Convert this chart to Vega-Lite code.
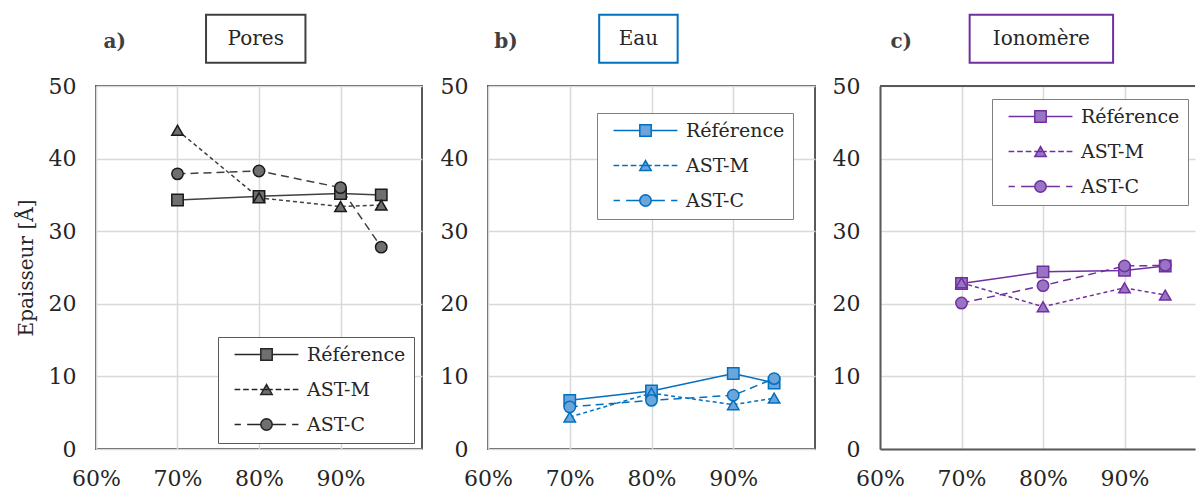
{
  "$schema": "https://vega.github.io/schema/vega-lite/v6.json",
  "padding": {"left": 15, "top": 12, "right": 0, "bottom": 0},
  "background": "white",
  "spacing": 16,
  "resolve": {"scale": {"shape": "independent"}, "legend": {"shape": "independent"}},
  "config": {
    "font": "DejaVu Serif",
    "view": {"stroke": "#595959", "strokeWidth": 2},
    "axis": {
      "labelFont": "DejaVu Serif", "labelFontSize": 22, "labelColor": "#262626",
      "ticks": false, "domain": false, "gridColor": "#d9d9d9", "gridWidth": 1.5,
      "labelFlush": false, "labelOverlap": false, "labelBound": false,
      "titleFont": "DejaVu Serif", "titleFontSize": 20, "titleFontWeight": "normal", "titleColor": "#262626"
    },
    "legend": {
      "orient": "none", "title": null, "labelFont": "DejaVu Serif", "labelFontSize": 19, "labelColor": "#262626",
      "fillColor": "white", "strokeColor": "#7f7f7f", "padding": 8, "rowPadding": 15,
      "symbolSize": 130, "symbolOffset": 31, "labelOffset": 31, "symbolStrokeWidth": 1.5, "symbolOpacity": 1
    }
  },
  "datasets": {
    "pores": [
      {"x": 0.70, "y": 34.3, "serie": "Référence"}, {"x": 0.80, "y": 34.8, "serie": "Référence"}, {"x": 0.90, "y": 35.2, "serie": "Référence"}, {"x": 0.95, "y": 35.0, "serie": "Référence"},
      {"x": 0.70, "y": 43.9, "serie": "AST-M"}, {"x": 0.80, "y": 34.6, "serie": "AST-M"}, {"x": 0.90, "y": 33.4, "serie": "AST-M"}, {"x": 0.95, "y": 33.6, "serie": "AST-M"},
      {"x": 0.70, "y": 37.9, "serie": "AST-C"}, {"x": 0.80, "y": 38.3, "serie": "AST-C"}, {"x": 0.90, "y": 36.0, "serie": "AST-C"}, {"x": 0.95, "y": 27.8, "serie": "AST-C"}
    ],
    "eau": [
      {"x": 0.70, "y": 6.7, "serie": "Référence"}, {"x": 0.80, "y": 8.0, "serie": "Référence"}, {"x": 0.90, "y": 10.4, "serie": "Référence"}, {"x": 0.95, "y": 9.1, "serie": "Référence"},
      {"x": 0.70, "y": 4.4, "serie": "AST-M"}, {"x": 0.80, "y": 7.7, "serie": "AST-M"}, {"x": 0.90, "y": 6.1, "serie": "AST-M"}, {"x": 0.95, "y": 7.0, "serie": "AST-M"},
      {"x": 0.70, "y": 5.8, "serie": "AST-C"}, {"x": 0.80, "y": 6.7, "serie": "AST-C"}, {"x": 0.90, "y": 7.4, "serie": "AST-C"}, {"x": 0.95, "y": 9.7, "serie": "AST-C"}
    ],
    "iono": [
      {"x": 0.70, "y": 22.8, "serie": "Référence"}, {"x": 0.80, "y": 24.4, "serie": "Référence"}, {"x": 0.90, "y": 24.6, "serie": "Référence"}, {"x": 0.95, "y": 25.2, "serie": "Référence"},
      {"x": 0.70, "y": 22.9, "serie": "AST-M"}, {"x": 0.80, "y": 19.6, "serie": "AST-M"}, {"x": 0.90, "y": 22.2, "serie": "AST-M"}, {"x": 0.95, "y": 21.2, "serie": "AST-M"},
      {"x": 0.70, "y": 20.1, "serie": "AST-C"}, {"x": 0.80, "y": 22.5, "serie": "AST-C"}, {"x": 0.90, "y": 25.2, "serie": "AST-C"}, {"x": 0.95, "y": 25.3, "serie": "AST-C"}
    ]
  },
  "hconcat": [
    {
      "width": 326, "height": 363,
      "data": {"name": "pores"},
      "layer": [
        {"transform": [{"filter": "datum.serie === 'Référence'"}], "mark": {"type": "line", "color": "#404040", "strokeWidth": 1.5},
          "encoding": {
            "x": {"field": "x", "type": "quantitative", "scale": {"domain": [0.6, 1.0], "nice": false, "zero": false}, "axis": {"values": [0.6, 0.7, 0.8, 0.9], "format": ".0%", "title": null, "labelPadding": 19}},
            "y": {"field": "y", "type": "quantitative", "scale": {"domain": [0, 50], "nice": false}, "axis": {"values": [0, 10, 20, 30, 40, 50], "title": "Epaisseur [Å]", "labelPadding": 20, "titlePadding": 12}}
          }},
        {"transform": [{"filter": "datum.serie === 'AST-M'"}], "mark": {"type": "line", "color": "#404040", "strokeWidth": 1.5, "strokeDash": [4, 3]},
          "encoding": {"x": {"field": "x", "type": "quantitative"}, "y": {"field": "y", "type": "quantitative"}}},
        {"transform": [{"filter": "datum.serie === 'AST-C'"}], "mark": {"type": "line", "color": "#404040", "strokeWidth": 1.5, "strokeDash": [8, 5]},
          "encoding": {"x": {"field": "x", "type": "quantitative"}, "y": {"field": "y", "type": "quantitative"}}},
        {"transform": [{"filter": "datum.serie === 'Référence'"}], "mark": {"type": "point", "shape": "square", "filled": true, "fill": "#6f6f6f", "stroke": "#1a1a1a", "strokeWidth": 1.5, "size": 130, "opacity": 1},
          "encoding": {"x": {"field": "x", "type": "quantitative"}, "y": {"field": "y", "type": "quantitative"}}},
        {"transform": [{"filter": "datum.serie === 'AST-M'"}], "mark": {"type": "point", "shape": "triangle-up", "filled": true, "fill": "#6f6f6f", "stroke": "#1a1a1a", "strokeWidth": 1.5, "size": 130, "opacity": 1},
          "encoding": {"x": {"field": "x", "type": "quantitative"}, "y": {"field": "y", "type": "quantitative"}}},
        {"transform": [{"filter": "datum.serie === 'AST-C'"}], "mark": {"type": "point", "shape": "circle", "filled": true, "fill": "#6f6f6f", "stroke": "#1a1a1a", "strokeWidth": 1.5, "size": 130, "opacity": 1},
          "encoding": {"x": {"field": "x", "type": "quantitative"}, "y": {"field": "y", "type": "quantitative"}}},
        {
          "transform": [{"filter": "false"}],
          "mark": {"type": "point", "filled": true, "fill": "#6f6f6f", "stroke": "#262626", "strokeWidth": 1.5, "size": 130, "opacity": 1},
          "encoding": {
            "x": {"field": "x", "type": "quantitative"},
            "y": {"field": "y", "type": "quantitative"},
            "shape": {"field": "serie", "type": "nominal",
              "scale": {"domain": ["Référence", "AST-M", "AST-C"], "range": [
                "M-5.6,0H-1M1,0H5.6M-1,-1H1V1H-1Z",
                "M-5.6,0H-4.6M-4.1,0H-3.1M-2.6,0H-1.6M-1.1,0H1.1M1.6,0H2.6M3.1,0H4.1M4.6,0H5.6M0,-0.87L-1,0.87L1,0.87Z",
                "M-5.6,0H-4.5M-3.4,0H-1M1,0H3.4M4.5,0H5.6M1,0L0.924,0.383L0.707,0.707L0.383,0.924L0,1L-0.383,0.924L-0.707,0.707L-0.924,0.383L-1,0L-0.924,-0.383L-0.707,-0.707L-0.383,-0.924L0,-1L0.383,-0.924L0.707,-0.707L0.924,-0.383Z"
              ]},
              "legend": {"legendX": 122, "legendY": 251, "strokeColor": "#595959",
                "encode": {"symbols": {"update": {"opacity": {"value": 1}, "fill": {"value": "#6f6f6f"}, "stroke": {"value": "#262626"}, "strokeWidth": {"value": 1.5}}}}}
            }
          }
        },
        {
          "data": {"values": [{}]},
          "mark": {"type": "text", "text": "a)", "fontWeight": "bold", "fontSize": 20, "color": "#404040"},
          "encoding": {"x": {"datum": 0.623, "type": "quantitative"}, "y": {"datum": 56.1, "type": "quantitative"}}
        },
        {
          "data": {"values": [{}]},
          "mark": {"type": "rect", "filled": false, "stroke": "#404040", "strokeWidth": 2},
          "encoding": {"x": {"datum": 0.735, "type": "quantitative"}, "x2": {"datum": 0.857}, "y": {"datum": 59.8, "type": "quantitative"}, "y2": {"datum": 53.2}}
        },
        {
          "data": {"values": [{}]},
          "mark": {"type": "text", "text": "Pores", "fontSize": 20, "color": "#262626"},
          "encoding": {"x": {"datum": 0.796, "type": "quantitative"}, "y": {"datum": 56.5, "type": "quantitative"}}
        }
      ]
    },
    {
      "width": 327, "height": 363,
      "data": {"name": "eau"},
      "layer": [
        {"transform": [{"filter": "datum.serie === 'Référence'"}], "mark": {"type": "line", "color": "#0070c0", "strokeWidth": 1.5},
          "encoding": {
            "x": {"field": "x", "type": "quantitative", "scale": {"domain": [0.6, 1.0], "nice": false, "zero": false}, "axis": {"values": [0.6, 0.7, 0.8, 0.9], "format": ".0%", "title": null, "labelPadding": 19}},
            "y": {"field": "y", "type": "quantitative", "scale": {"domain": [0, 50], "nice": false}, "axis": {"values": [0, 10, 20, 30, 40, 50], "title": null, "labelPadding": 20}}
          }},
        {"transform": [{"filter": "datum.serie === 'AST-M'"}], "mark": {"type": "line", "color": "#0070c0", "strokeWidth": 1.5, "strokeDash": [4, 3]},
          "encoding": {"x": {"field": "x", "type": "quantitative"}, "y": {"field": "y", "type": "quantitative"}}},
        {"transform": [{"filter": "datum.serie === 'AST-C'"}], "mark": {"type": "line", "color": "#0070c0", "strokeWidth": 1.5, "strokeDash": [8, 5]},
          "encoding": {"x": {"field": "x", "type": "quantitative"}, "y": {"field": "y", "type": "quantitative"}}},
        {"transform": [{"filter": "datum.serie === 'Référence'"}], "mark": {"type": "point", "shape": "square", "filled": true, "fill": "#6aa6dc", "stroke": "#0070c0", "strokeWidth": 1.5, "size": 130, "opacity": 1},
          "encoding": {"x": {"field": "x", "type": "quantitative"}, "y": {"field": "y", "type": "quantitative"}}},
        {"transform": [{"filter": "datum.serie === 'AST-M'"}], "mark": {"type": "point", "shape": "triangle-up", "filled": true, "fill": "#6aa6dc", "stroke": "#0070c0", "strokeWidth": 1.5, "size": 130, "opacity": 1},
          "encoding": {"x": {"field": "x", "type": "quantitative"}, "y": {"field": "y", "type": "quantitative"}}},
        {"transform": [{"filter": "datum.serie === 'AST-C'"}], "mark": {"type": "point", "shape": "circle", "filled": true, "fill": "#6aa6dc", "stroke": "#0070c0", "strokeWidth": 1.5, "size": 130, "opacity": 1},
          "encoding": {"x": {"field": "x", "type": "quantitative"}, "y": {"field": "y", "type": "quantitative"}}},
        {
          "transform": [{"filter": "false"}],
          "mark": {"type": "point", "filled": true, "fill": "#6aa6dc", "stroke": "#0070c0", "strokeWidth": 1.5, "size": 130, "opacity": 1},
          "encoding": {
            "x": {"field": "x", "type": "quantitative"},
            "y": {"field": "y", "type": "quantitative"},
            "shape": {"field": "serie", "type": "nominal",
              "scale": {"domain": ["Référence", "AST-M", "AST-C"], "range": [
                "M-5.6,0H-1M1,0H5.6M-1,-1H1V1H-1Z",
                "M-5.6,0H-4.6M-4.1,0H-3.1M-2.6,0H-1.6M-1.1,0H1.1M1.6,0H2.6M3.1,0H4.1M4.6,0H5.6M0,-0.87L-1,0.87L1,0.87Z",
                "M-5.6,0H-4.5M-3.4,0H-1M1,0H3.4M4.5,0H5.6M1,0L0.924,0.383L0.707,0.707L0.383,0.924L0,1L-0.383,0.924L-0.707,0.707L-0.924,0.383L-1,0L-0.924,-0.383L-0.707,-0.707L-0.383,-0.924L0,-1L0.383,-0.924L0.707,-0.707L0.924,-0.383Z"
              ]},
              "legend": {"legendX": 109, "legendY": 27, "strokeColor": "#7f7f7f",
                "encode": {"symbols": {"update": {"opacity": {"value": 1}, "fill": {"value": "#6aa6dc"}, "stroke": {"value": "#0070c0"}, "strokeWidth": {"value": 1.5}}}}}
            }
          }
        },
        {
          "data": {"values": [{}]},
          "mark": {"type": "text", "text": "b)", "fontWeight": "bold", "fontSize": 20, "color": "#404040"},
          "encoding": {"x": {"datum": 0.622, "type": "quantitative"}, "y": {"datum": 56.1, "type": "quantitative"}}
        },
        {
          "data": {"values": [{}]},
          "mark": {"type": "rect", "filled": false, "stroke": "#0070c0", "strokeWidth": 2},
          "encoding": {"x": {"datum": 0.736, "type": "quantitative"}, "x2": {"datum": 0.832}, "y": {"datum": 59.8, "type": "quantitative"}, "y2": {"datum": 53.2}}
        },
        {
          "data": {"values": [{}]},
          "mark": {"type": "text", "text": "Eau", "fontSize": 20, "color": "#262626"},
          "encoding": {"x": {"datum": 0.784, "type": "quantitative"}, "y": {"datum": 56.5, "type": "quantitative"}}
        }
      ]
    },
    {
      "width": 315, "height": 363,
      "data": {"name": "iono"},
      "view": {"stroke": null},
      "layer": [
        {"transform": [{"filter": "datum.serie === 'Référence'"}], "mark": {"type": "line", "color": "#7030a0", "strokeWidth": 1.5},
          "encoding": {
            "x": {"field": "x", "type": "quantitative", "scale": {"domain": [0.6, 0.9865], "nice": false, "zero": false}, "axis": {"values": [0.6, 0.7, 0.8, 0.9], "format": ".0%", "title": null, "labelPadding": 19, "domain": true, "domainColor": "#595959", "domainWidth": 2}},
            "y": {"field": "y", "type": "quantitative", "scale": {"domain": [0, 50], "nice": false}, "axis": {"values": [0, 10, 20, 30, 40, 50], "title": null, "labelPadding": 20, "domain": true, "domainColor": "#595959", "domainWidth": 2}}
          }},
        {"transform": [{"filter": "datum.serie === 'AST-M'"}], "mark": {"type": "line", "color": "#7030a0", "strokeWidth": 1.5, "strokeDash": [4, 3]},
          "encoding": {"x": {"field": "x", "type": "quantitative"}, "y": {"field": "y", "type": "quantitative"}}},
        {"transform": [{"filter": "datum.serie === 'AST-C'"}], "mark": {"type": "line", "color": "#7030a0", "strokeWidth": 1.5, "strokeDash": [8, 5]},
          "encoding": {"x": {"field": "x", "type": "quantitative"}, "y": {"field": "y", "type": "quantitative"}}},
        {"transform": [{"filter": "datum.serie === 'Référence'"}], "mark": {"type": "point", "shape": "square", "filled": true, "fill": "#9a74c4", "stroke": "#7030a0", "strokeWidth": 1.5, "size": 130, "opacity": 1},
          "encoding": {"x": {"field": "x", "type": "quantitative"}, "y": {"field": "y", "type": "quantitative"}}},
        {"transform": [{"filter": "datum.serie === 'AST-M'"}], "mark": {"type": "point", "shape": "triangle-up", "filled": true, "fill": "#9a74c4", "stroke": "#7030a0", "strokeWidth": 1.5, "size": 130, "opacity": 1},
          "encoding": {"x": {"field": "x", "type": "quantitative"}, "y": {"field": "y", "type": "quantitative"}}},
        {"transform": [{"filter": "datum.serie === 'AST-C'"}], "mark": {"type": "point", "shape": "circle", "filled": true, "fill": "#9a74c4", "stroke": "#7030a0", "strokeWidth": 1.5, "size": 130, "opacity": 1},
          "encoding": {"x": {"field": "x", "type": "quantitative"}, "y": {"field": "y", "type": "quantitative"}}},
        {
          "transform": [{"filter": "false"}],
          "mark": {"type": "point", "filled": true, "fill": "#9a74c4", "stroke": "#7030a0", "strokeWidth": 1.5, "size": 130, "opacity": 1},
          "encoding": {
            "x": {"field": "x", "type": "quantitative"},
            "y": {"field": "y", "type": "quantitative"},
            "shape": {"field": "serie", "type": "nominal",
              "scale": {"domain": ["Référence", "AST-M", "AST-C"], "range": [
                "M-5.6,0H-1M1,0H5.6M-1,-1H1V1H-1Z",
                "M-5.6,0H-4.6M-4.1,0H-3.1M-2.6,0H-1.6M-1.1,0H1.1M1.6,0H2.6M3.1,0H4.1M4.6,0H5.6M0,-0.87L-1,0.87L1,0.87Z",
                "M-5.6,0H-4.5M-3.4,0H-1M1,0H3.4M4.5,0H5.6M1,0L0.924,0.383L0.707,0.707L0.383,0.924L0,1L-0.383,0.924L-0.707,0.707L-0.924,0.383L-1,0L-0.924,-0.383L-0.707,-0.707L-0.383,-0.924L0,-1L0.383,-0.924L0.707,-0.707L0.924,-0.383Z"
              ]},
              "legend": {"legendX": 112, "legendY": 13, "strokeColor": "#7f7f7f",
                "encode": {"symbols": {"update": {"opacity": {"value": 1}, "fill": {"value": "#9a74c4"}, "stroke": {"value": "#7030a0"}, "strokeWidth": {"value": 1.5}}}}}
            }
          }
        },
        {
          "data": {"values": [{}]},
          "mark": {"type": "rule", "color": "#595959", "strokeWidth": 2},
          "encoding": {"y": {"datum": 50, "type": "quantitative"}}
        },
        {
          "data": {"values": [{}]},
          "mark": {"type": "text", "text": "c)", "fontWeight": "bold", "fontSize": 20, "color": "#404040"},
          "encoding": {"x": {"datum": 0.626, "type": "quantitative"}, "y": {"datum": 56.1, "type": "quantitative"}}
        },
        {
          "data": {"values": [{}]},
          "mark": {"type": "rect", "filled": false, "stroke": "#7030a0", "strokeWidth": 2},
          "encoding": {"x": {"datum": 0.71, "type": "quantitative"}, "x2": {"datum": 0.886}, "y": {"datum": 59.8, "type": "quantitative"}, "y2": {"datum": 53.2}}
        },
        {
          "data": {"values": [{}]},
          "mark": {"type": "text", "text": "Ionomère", "fontSize": 20, "color": "#262626"},
          "encoding": {"x": {"datum": 0.798, "type": "quantitative"}, "y": {"datum": 56.5, "type": "quantitative"}}
        }
      ]
    }
  ]
}
